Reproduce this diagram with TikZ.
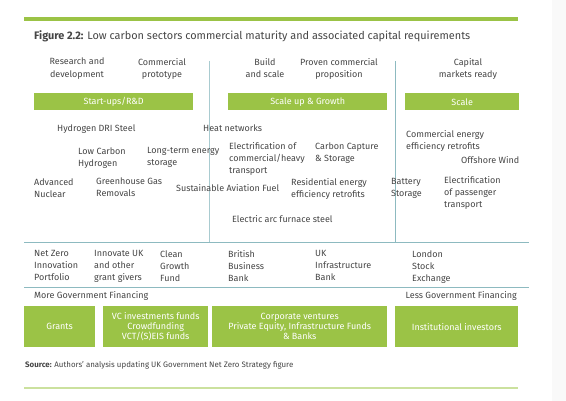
\documentclass[tikz,border=0pt]{standalone}
\usepackage{fontspec}
\setmainfont{Fira Sans}
\definecolor{grn}{HTML}{9BC346}
\definecolor{lgrn}{HTML}{CBE19E}
\definecolor{rule}{HTML}{8DBAC0}
\definecolor{txt}{HTML}{454545}
\begin{document}
\begin{tikzpicture}[x=1pt,y=-1pt,
  lbl/.style={inner sep=0pt, anchor=north west, align=left, text=txt, font=\fontsize{9}{12}\selectfont},
  stage/.style={inner sep=0pt, anchor=north, align=center, text=txt, font=\fontsize{9}{12.5}\selectfont},
  bar/.style={fill=grn, inner sep=0pt, text=white, font=\fontsize{9}{10}\selectfont, align=center},
  divider/.style={draw=rule, line width=1pt}]
\useasboundingbox (0,0) rectangle (566,401);
\fill[gray!5] (552,0) rectangle (566,401);
% top rule
\fill[grn] (24,17) rectangle (518,21);
\node[inner sep=0pt, anchor=west, text=txt, font=\fontsize{10.9}{13}\selectfont] (title) at (34,36) {\textbf{Figure 2.2:} Low carbon sectors commercial maturity and associated capital requirements};
% stage labels
\node[stage] (rd) at (77,58) {Research and\\development};
\node[stage] (cp) at (162,58) {Commercial\\prototype};
\node[stage] (bs) at (265,58) {Build\\and scale};
\node[stage] (pc) at (339,58) {Proven commercial\\proposition};
\node[stage] (cm) at (468,58) {Capital\\markets ready};
% stage bars
\node[bar, minimum width=159pt, minimum height=17pt, anchor=north west] (b1) at (34,93) {Start-ups/R\&D};
\node[bar, minimum width=159pt, minimum height=17pt, anchor=north west] (b2) at (228,93) {Scale up \& Growth};
\node[bar, minimum width=114pt, minimum height=17pt, anchor=north west] (b3) at (405,93) {Scale};
% dividers
\coordinate (v1t) at (209,61); \coordinate (v1b) at (209,243);
\coordinate (v2t) at (395,61); \coordinate (v2b) at (395,243);
\coordinate (h1l) at (24,243); \coordinate (h1r) at (529,243);
\coordinate (h2l) at (24,288); \coordinate (h2r) at (529,288);
\draw[divider, draw=rule!75] (v1t) -- (v1b);
\draw[divider] (v2t) -- (v2b);
\draw[divider] (h1l) -- (h1r);
\draw[divider] (h2l) -- (h2r);
% sectors
\node[lbl] (s1) at (57,124.5) {Hydrogen DRI Steel};
\node[lbl] (s2) at (203,124.5) {Heat networks};
\node[lbl] (s3) at (78,147.5) {Low Carbon\\Hydrogen};
\node[lbl] (s4) at (147,147.5) {Long-term energy\\storage};
\node[lbl] (s5) at (229,142.5) {Electrification of\\commercial/heavy\\transport};
\node[lbl] (s6) at (315,142.5) {Carbon Capture\\\& Storage};
\node[lbl] (s7) at (406,130.5) {Commercial energy\\efficiency retrofits};
\node[lbl] (s8) at (461,156.5) {Offshore Wind};
\node[lbl] (s9) at (34,178.5) {Advanced\\Nuclear};
\node[lbl] (s10) at (96,177.5) {Greenhouse Gas\\Removals};
\node[lbl] (s11) at (176,184.5) {Sustainable Aviation Fuel};
\node[lbl] (s12) at (291,178.5) {Residential energy\\efficiency retrofits};
\node[lbl] (s13) at (391,178.5) {Battery\\Storage};
\node[lbl] (s14) at (444,176.5) {Electrification\\of passenger\\transport};
\node[lbl] (s15) at (232,215.5) {Electric arc furnace steel};
% financiers
\node[lbl] (f1) at (34,250.5) {Net Zero\\Innovation\\Portfolio};
\node[lbl] (f2) at (94,250.5) {Innovate UK\\and other\\grant givers};
\node[lbl] (f3) at (160,250.5) {Clean\\Growth\\Fund};
\node[lbl] (f4) at (228,250.5) {British\\Business\\Bank};
\node[lbl] (f5) at (315,250.5) {UK\\Infrastructure\\Bank};
\node[lbl] (f6) at (412,250.5) {London\\Stock\\Exchange};
\node[lbl, anchor=west] (more) at (34,296) {More Government Financing};
\node[lbl, anchor=east] (less) at (517,296) {Less Government Financing};
% capital boxes
\node[bar, minimum width=71pt, minimum height=41pt, anchor=north west] (g1) at (24,306) {Grants};
\node[bar, minimum width=105pt, minimum height=41pt, anchor=north west] (g2) at (103,306) {VC investments funds\\Crowdfunding\\VCT/(S)EIS funds};
\node[bar, minimum width=175pt, minimum height=41pt, anchor=north west] (g3) at (212,306) {Corporate ventures\\Private Equity, Infrastructure Funds\\\& Banks};
\node[bar, minimum width=123pt, minimum height=41pt, anchor=north west] (g4) at (395,306) {Institutional investors};
% source
\node[inner sep=0pt, anchor=west, text=txt, font=\fontsize{7.9}{9}\selectfont] (src) at (25,365) {\textbf{Source:} Authors' analysis updating UK Government Net Zero Strategy figure};
\fill[lgrn] (24,387) rectangle (518,389.5);
\end{tikzpicture}
\end{document}
